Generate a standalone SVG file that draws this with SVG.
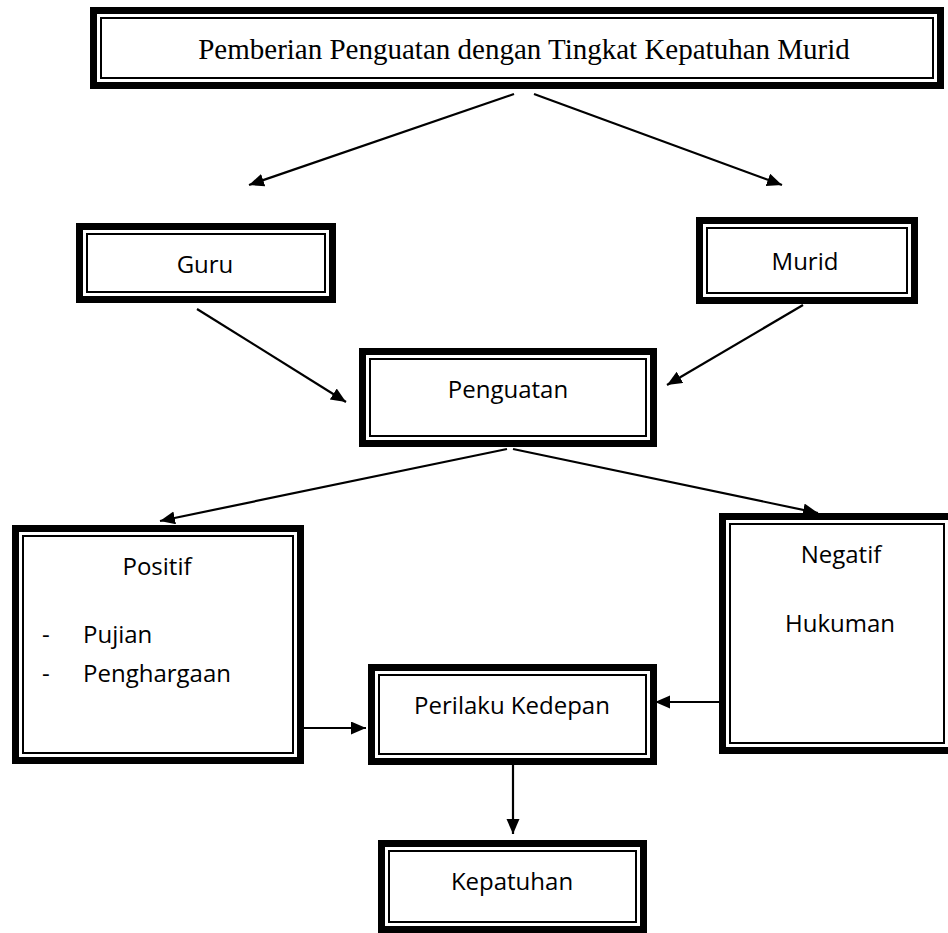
<svg xmlns="http://www.w3.org/2000/svg" width="948" height="933" viewBox="0 0 948 933">
<defs>
<style>
.thick{fill:#fff;stroke:#000;stroke-width:7}
.thin{fill:none;stroke:#000;stroke-width:2}
.t{font-family:"Open Sans","Noto Sans","Liberation Sans",sans-serif;font-size:24px;fill:#000}
.m{text-anchor:middle}
.serif{font-family:"Liberation Serif","Times New Roman",serif;font-size:29px;fill:#000;text-anchor:middle}
.c{stroke:#000;stroke-width:2.2;fill:none;marker-end:url(#ah)}
</style>
<marker id="ah" markerUnits="userSpaceOnUse" markerWidth="16" markerHeight="14" refX="15" refY="6.5" orient="auto">
<path d="M0,0 L15,6.5 L0,13 z" fill="#000"/>
</marker>
</defs>
<rect width="948" height="933" fill="#fff"/>

<g id="title">
<rect class="thick" x="93.5" y="10.5" width="847" height="75"/>
<rect class="thin" x="101" y="18" width="832" height="60"/>
<text class="serif" x="524" y="59">Pemberian Penguatan dengan Tingkat Kepatuhan Murid</text>
</g>

<g id="guru">
<rect class="thick" x="79.5" y="226.5" width="253" height="73"/>
<rect class="thin" x="87" y="234" width="238" height="58"/>
<text class="t m" x="205" y="273">Guru</text>
</g>

<g id="murid">
<rect class="thick" x="699.5" y="220.5" width="215" height="80"/>
<rect class="thin" x="707" y="228" width="200" height="65"/>
<text class="t m" x="805" y="270">Murid</text>
</g>

<g id="penguatan">
<rect class="thick" x="362.5" y="351.5" width="291" height="92"/>
<rect class="thin" x="370" y="359" width="276" height="77"/>
<text class="t m" x="508" y="398">Penguatan</text>
</g>

<g id="positif">
<rect class="thick" x="15.5" y="528.5" width="285" height="232"/>
<rect class="thin" x="23" y="536" width="270" height="217"/>
<text class="t m" x="157" y="575">Positif</text>
<text class="t" x="42" y="643">-</text>
<text class="t" x="83" y="643">Pujian</text>
<text class="t" x="42" y="682">-</text>
<text class="t" x="83" y="682">Penghargaan</text>
</g>

<g id="negatif">
<rect class="thick" x="722.5" y="516.5" width="229" height="234"/>
<rect class="thin" x="730" y="524" width="214" height="219"/>
<text class="t m" x="841" y="563">Negatif</text>
<text class="t m" x="840" y="632">Hukuman</text>
</g>

<g id="perilaku">
<rect class="thick" x="371.5" y="667.5" width="282" height="94"/>
<rect class="thin" x="379" y="675" width="267" height="79"/>
<text class="t m" x="512" y="714">Perilaku Kedepan</text>
</g>

<g id="kepatuhan">
<rect class="thick" x="381.5" y="843.5" width="262" height="86"/>
<rect class="thin" x="389" y="851" width="247" height="71"/>
<text class="t m" x="512" y="890">Kepatuhan</text>
</g>

<g id="connectors">
<line class="c" x1="514" y1="94" x2="249" y2="185"/>
<line class="c" x1="534" y1="94" x2="782" y2="185"/>
<line class="c" x1="197" y1="309" x2="346" y2="402"/>
<line class="c" x1="803" y1="305" x2="667" y2="385"/>
<line class="c" x1="507" y1="449" x2="160" y2="521"/>
<line class="c" x1="513" y1="449" x2="818" y2="513"/>
<line class="c" x1="304" y1="728" x2="366" y2="728"/>
<line class="c" x1="719" y1="702" x2="655" y2="702"/>
<line class="c" x1="513" y1="765" x2="513" y2="834"/>
</g>
</svg>
